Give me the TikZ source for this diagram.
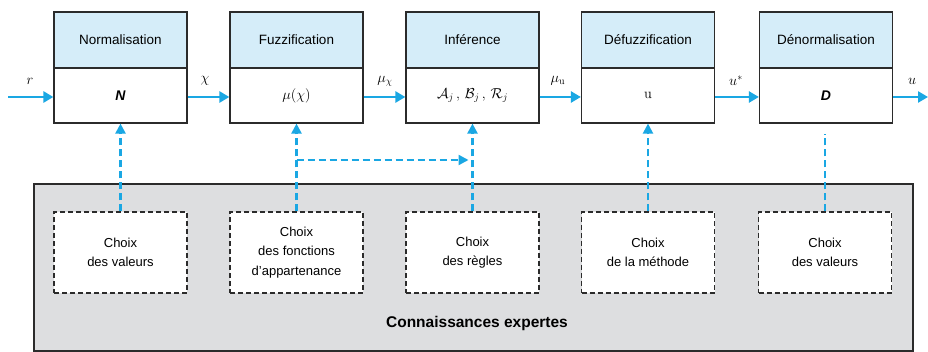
\documentclass[tikz,border=0pt]{standalone}
\usepackage[no-math]{fontspec}
\setmainfont{Liberation Sans}
\usetikzlibrary{arrows.meta}
\definecolor{flowblue}{HTML}{1AA7E3}
\definecolor{headfill}{HTML}{D5EDF9}
\definecolor{kbfill}{HTML}{DDDEE0}
\definecolor{edge}{HTML}{2B2B2B}
\begin{document}
\begin{tikzpicture}[x=1pt,y=-1pt,
  head/.style={draw=edge,line width=1.2pt,fill=headfill,minimum width=133pt,minimum height=56pt,inner sep=0pt,font=\fontsize{13.5}{15}\selectfont},
  body/.style={draw=edge,line width=1.2pt,fill=white,minimum width=133pt,minimum height=55pt,inner sep=0pt,font=\fontsize{14}{16}\selectfont},
  choice/.style={draw=edge,line width=1.2pt,dash pattern=on 5pt off 3pt,fill=white,minimum width=133pt,minimum height=81pt,inner sep=0pt,align=center,font=\fontsize{13}{19.5}\selectfont},
  kb/.style={draw=edge,line width=1.2pt,fill=kbfill,minimum width=879pt,minimum height=167pt,inner sep=0pt},
  flow/.style={draw=flowblue,line width=2.8pt,-{Triangle[length=10pt,width=11pt]}},
  dflow/.style={draw=flowblue,line width=2.2pt,dash pattern=on 7pt off 4pt,-{Triangle[length=10pt,width=10pt]}},
  dline/.style={draw=flowblue,line width=2.2pt,dash pattern=on 7pt off 4pt},
  lab/.style={font=\fontsize{14}{16}\selectfont}]
\useasboundingbox (0,0) rectangle (928,352);

% knowledge base
\node[kb] (kbox) at (473.5,267.5) {};
\node[font=\bfseries\fontsize{15.5}{17}\selectfont] (kbl) at (477,323) {Connaissances expertes};

% top boxes
\node[head] (h1) at (120.5,40) {Normalisation};
\node[body] (b1) at (120.5,95.5) {\textbf{\textit{N}}};
\node[head] (h2) at (296.5,40) {Fuzzification};
\node[body] (b2) at (296.5,95.5) {$\mu(\chi)$};
\node[head] (h3) at (472.5,40) {Inférence};
\node[body] (b3) at (472.5,95.5) {$\mathcal{A}_j\,,\,\mathcal{B}_j\,,\,\mathcal{R}_j$};
\node[head] (h4) at (648,40) {Défuzzification};
\node[body] (b4) at (648,95.5) {$\mathrm{u}$};
\node[head] (h5) at (826,40) {Dénormalisation};
\node[body] (b5) at (826,95.5) {\textbf{\textit{D}}};

% choice boxes
\node[choice] (c1) at (120.5,252.5) {Choix\\des valeurs};
\node[choice] (c2) at (296.5,252.5) {Choix\\des fonctions\\d'appartenance};
\node[choice] (c3) at (472.5,252.5) {Choix\\des règles};
\node[choice] (c4) at (648,252.5) {Choix\\de la méthode};
\node[choice] (c5) at (825,252.5) {Choix\\des valeurs};

% main flow
\coordinate (in) at (8,97);
\coordinate (out) at (928,97);
\draw[flow] (in) -- (b1.west |- in);
\draw[flow] (b1.east |- in) -- (b2.west |- in);
\draw[flow] (b2.east |- in) -- (b3.west |- in);
\draw[flow] (b3.east |- in) -- (b4.west |- in);
\draw[flow] (b4.east |- in) -- (b5.west |- in);
\draw[flow] (b5.east |- in) -- (out);

\node[lab] (lr) at (30,81) {$r$};
\node[lab] (lx) at (205,81) {$\chi$};
\node[lab] (lmx) at (385,81) {$\mu_\chi$};
\node[lab] (lmu) at (558,81) {$\mu_{\mathrm{u}}$};
\node[lab] (lus) at (736,81) {$u^*$};
\node[lab] (lu) at (912,81) {$u$};

% knowledge arrows
\draw[dflow] (c1.north) -- (b1.south);
\draw[dflow] (c2.north) -- (b2.south);
\draw[dflow] (c3.north) -- (b3.south);
\draw[dflow] (c4.north) -- (b4.south);
\coordinate (e5) at (825,134);
\draw[dline] (c5.north) -- (e5);
\coordinate (j2) at (296.5,160);
\coordinate (j3) at (472.5,160);
\draw[dflow,shorten >=4pt] (j2) -- (j3);
\end{tikzpicture}
\end{document}
